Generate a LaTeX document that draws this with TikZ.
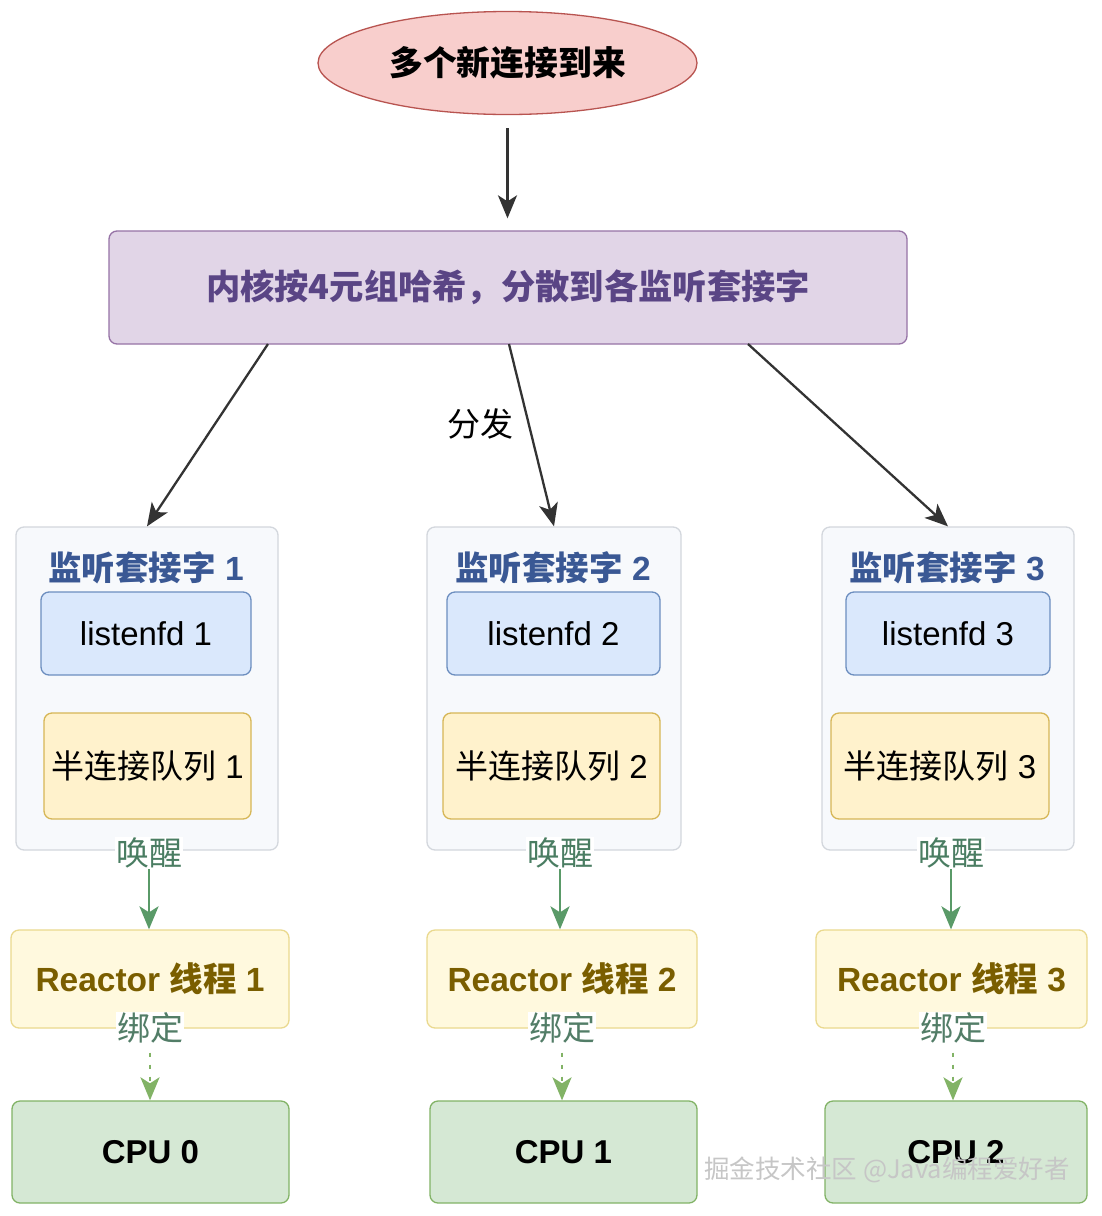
\documentclass[tikz,border=0pt]{standalone}
\usepackage{fontspec}
\setmainfont{Liberation Sans}
\newfontfamily\cjk{Noto Sans CJK SC}
\usetikzlibrary{shapes.geometric,arrows.meta}
\definecolor{pinkfill}{HTML}{F8CECC}
\definecolor{pinkdraw}{HTML}{B85450}
\definecolor{purpfill}{HTML}{E1D5E7}
\definecolor{purpdraw}{HTML}{9673A6}
\definecolor{purptext}{HTML}{5A4585}
\definecolor{contfill}{HTML}{F7F9FC}
\definecolor{contdraw}{HTML}{D3D7DD}
\definecolor{titleblue}{HTML}{3A5894}
\definecolor{bluefill}{HTML}{DAE8FC}
\definecolor{bluedraw}{HTML}{6C8EBF}
\definecolor{yelfill}{HTML}{FFF2CC}
\definecolor{yeldraw}{HTML}{D6B656}
\definecolor{reacfill}{HTML}{FFF9DE}
\definecolor{reacdraw}{HTML}{EAD98E}
\definecolor{reactext}{HTML}{7A5E00}
\definecolor{grfill}{HTML}{D5E8D4}
\definecolor{grdraw}{HTML}{82B366}
\definecolor{grarrow}{HTML}{5A9A68}
\definecolor{grlabel}{HTML}{4A7D62}
\definecolor{darkline}{HTML}{333333}
\begin{document}
\begin{tikzpicture}[x=1pt,y=-1pt,
  font=\fontsize{33}{38}\selectfont,
  box/.style={draw, rounded corners=8pt, line width=1.3pt, inner sep=0pt, anchor=center},
  cont/.style={box, fill=contfill, draw=contdraw, minimum height=323pt},
  lfd/.style={box, fill=bluefill, draw=bluedraw, minimum height=83pt},
  halfq/.style={box, fill=yelfill, draw=yeldraw, minimum height=106pt},
  reac/.style={box, fill=reacfill, draw=reacdraw, minimum height=98pt, text=reactext, font=\fontsize{33.5}{38}\selectfont\bfseries},
  cpu/.style={box, fill=grfill, draw=grdraw, minimum height=102pt, font=\fontsize{33}{38}\selectfont\bfseries},
  ttl/.style={text=titleblue, font=\fontsize{33.5}{38}\selectfont\bfseries, inner sep=0pt},
  wlab/.style={fill=white, text=grlabel, inner sep=1pt},
  blab/.style={fill=white, text=grlabel!85!gray, inner sep=1pt},
  blk/.style={draw=darkline, line width=2.3pt, -{Stealth[length=23pt,width=19pt,inset=6pt]}},
  garr/.style={draw=grarrow, line width=2.6pt, -{Stealth[length=23pt,width=19pt,inset=6pt]}},
  darr/.style={draw=grdraw, line width=2.6pt, dash pattern=on 4pt off 8pt, -{Stealth[length=23pt,width=19pt,inset=6pt]}}
]
\useasboundingbox (0,0) rectangle (1101,1216);
\fill[white] (0,0) rectangle (1101,1216);

% top
\node[ellipse, draw=pinkdraw, fill=pinkfill, line width=1.3pt, minimum width=379pt, minimum height=103pt, inner sep=0pt, font=\fontsize{33.8}{38}\selectfont\bfseries] (start) at (507.5,63) {\cjk 多个新连接到来};
\node[box, fill=purpfill, draw=purpdraw, minimum width=798pt, minimum height=113pt, text=purptext, font=\fontsize{34.3}{38}\selectfont\bfseries] (hash) at (508,287.5) {\cjk 内核按4元组哈希，分散到各监听套接字};
\draw[blk, shorten >=12pt] (start.south |- 0,128) -- (hash.north -| start.south);

% containers
\node[cont, minimum width=262pt] (c1) at (147,688.5) {};
\node[cont, minimum width=254pt] (c2) at (554,688.5) {};
\node[cont, minimum width=252pt] (c3) at (948,688.5) {};

\node[ttl] (t1) at (146,568) {{\cjk 监听套接字} 1};
\node[ttl] (t2) at (553,568) {{\cjk 监听套接字} 2};
\node[ttl] (t3) at (947,568) {{\cjk 监听套接字} 3};

\node[lfd, minimum width=210pt] (l1) at (146,633.5) {listenfd 1};
\node[lfd, minimum width=213pt] (l2) at (553.5,633.5) {listenfd 2};
\node[lfd, minimum width=204pt] (l3) at (948,633.5) {listenfd 3};

\node[halfq, minimum width=207pt] (q1) at (147.5,766) {{\cjk 半连接队列} 1};
\node[halfq, minimum width=217pt] (q2) at (551.5,766) {{\cjk 半连接队列} 2};
\node[halfq, minimum width=218pt] (q3) at (940,766) {{\cjk 半连接队列} 3};

% dispatch arrows
\coordinate (h1) at (268,344);
\coordinate (h2) at (509,344);
\coordinate (h3) at (748,344);
\draw[blk] (h1) -- (c1.north);
\draw[blk] (h2) -- (c2.north);
\draw[blk] (h3) -- (c3.north);
\node[inner sep=0pt] (fenfa) at (480,424) {\cjk 分发};

% reactors
\node[reac, minimum width=278pt] (r1) at (150,979) {Reactor {\cjk 线程} 1};
\node[reac, minimum width=270pt] (r2) at (562,979) {Reactor {\cjk 线程} 2};
\node[reac, minimum width=271pt] (r3) at (951.5,979) {Reactor {\cjk 线程} 3};

\node[wlab] (w1) at (149,853) {\cjk 唤醒};
\node[wlab] (w2) at (560,853) {\cjk 唤醒};
\node[wlab] (w3) at (951,853) {\cjk 唤醒};
\draw[garr] (w1.south) -- (w1.south |- r1.north);
\draw[garr] (w2.south) -- (w2.south |- r2.north);
\draw[garr] (w3.south) -- (w3.south |- r3.north);

% cpus
\node[cpu, minimum width=277pt] (p1) at (150.5,1152) {CPU 0};
\node[cpu, minimum width=267pt] (p2) at (563.5,1152) {CPU 1};
\node[cpu, minimum width=262pt] (p3) at (956,1152) {CPU 2};

\node[blab] (b1) at (150,1028) {\cjk 绑定};
\node[blab] (b2) at (562,1028) {\cjk 绑定};
\node[blab] (b3) at (953,1028) {\cjk 绑定};
\draw[darr] ([yshift=-8pt]b1.south) -- (b1.south |- p1.north);
\draw[darr] ([yshift=-8pt]b2.south) -- (b2.south |- p2.north);
\draw[darr] ([yshift=-8pt]b3.south) -- (b3.south |- p3.north);

% watermark
\node[text=white!55!gray, inner sep=0pt, font=\fontsize{25.5}{28}\selectfont] (wm) at (887,1170) {\cjk 掘金技术社区 @Java编程爱好者};
\end{tikzpicture}
\end{document}
